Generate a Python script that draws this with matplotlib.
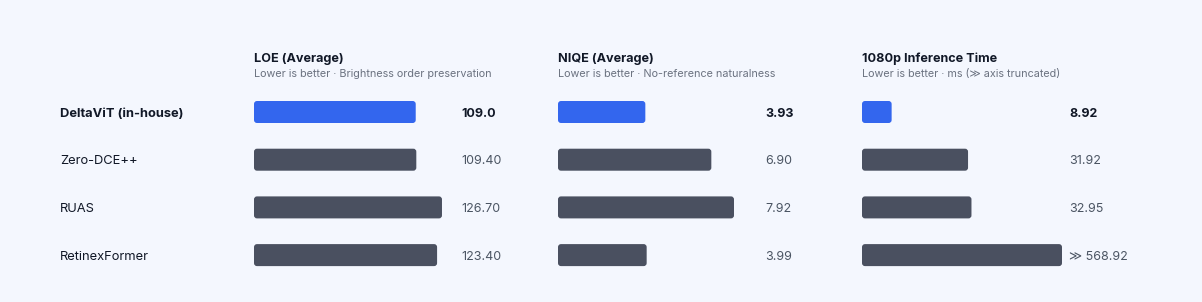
import matplotlib
matplotlib.use("Agg")
import matplotlib.pyplot as plt
from matplotlib.patches import FancyBboxPatch
import matplotlib.transforms as mtransforms

plt.rcParams['font.family'] = ['Inter', 'DejaVu Sans']

# data
models = ["DeltaViT (in-house)", "Zero-DCE++", "RUAS", "RetinexFormer"]
metric_titles = ["LOE (Average)", "NIQE (Average)", "1080p Inference Time"]
metric_subtitles = ["Lower is better · Brightness order preservation",
                    "Lower is better · No-reference naturalness",
                    "Lower is better · ms (≫ axis truncated)"]
loe = [109.0, 109.40, 126.70, 123.40]
niqe = [3.93, 6.90, 7.92, 3.99]
time_ms = [8.92, 31.92, 32.95, 568.92]
loe_labels = ["109.0", "109.40", "126.70", "123.40"]
niqe_labels = ["3.93", "6.90", "7.92", "3.99"]
time_labels = ["8.92", "31.92", "32.95", "≫ 568.92"]
time_cap = 60.2

panels = [
    (loe, loe_labels, 134.8),
    (niqe, niqe_labels, 9.0),
    (time_ms, time_labels, time_cap),
]

BG = "#F4F7FE"
BLUE = "#3366EE"
GRAY = "#4A5060"
DARK = "#111827"
MUTED = "#4B5563"
SUB = "#6B7280"

W, H = 1202, 302
fig = plt.figure(figsize=(W / 100, H / 100), dpi=100, facecolor=BG)

bar_left = [254, 558, 862]
track_w = 200
row_h = 47.7
top = 112 - row_h / 2
n = len(models)
base_off = 4.8  # px from row centre to text baseline

for k, (vals, labels, xmax) in enumerate(panels):
    ax = fig.add_axes([bar_left[k] / W, 1 - (top + n * row_h) / H,
                       track_w / W, n * row_h / H])
    ax.set_facecolor("none")
    ax.set_xlim(0, xmax)
    ax.set_ylim(n - 0.5, -0.5)
    ax.axis("off")

    shown = [min(v, xmax) for v in vals]
    colors = [BLUE] + [GRAY] * (n - 1)
    bh = 22 / row_h
    bars = ax.barh(range(n), shown, height=bh, color=colors)

    # rounded corners
    r_px = 3
    rx = r_px * xmax / track_w
    ry = r_px / row_h
    for b, c in zip(bars, colors):
        b.set_visible(False)
        p = FancyBboxPatch((b.get_x(), b.get_y()), b.get_width(), b.get_height(),
                           boxstyle=f"round,pad=0,rounding_size={rx}",
                           mutation_aspect=ry / rx, facecolor=c, edgecolor="none")
        ax.add_patch(p)

    trans = mtransforms.blended_transform_factory(ax.transAxes, ax.transData)
    for i, lab in enumerate(labels):
        ax.text(207 / track_w, i + base_off / row_h, lab, transform=trans,
                va="baseline", ha="left", fontsize=9.0,
                color=DARK if i == 0 else MUTED,
                fontweight="bold" if i == 0 else "normal")

    fig.text(bar_left[k] / W, 1 - 61.7 / H, metric_titles[k], fontsize=9.1,
             fontweight="bold", color=DARK, va="baseline", ha="left")
    fig.text(bar_left[k] / W, 1 - 76.7 / H, metric_subtitles[k], fontsize=7.8,
             color=SUB, va="baseline", ha="left")

for i, m in enumerate(models):
    fig.text(60 / W, 1 - (112 + i * row_h + base_off) / H, m, fontsize=9.3,
             color=DARK, va="baseline", ha="left",
             fontweight="bold" if i == 0 else "normal")

fig.savefig("out.png", dpi=100, facecolor=BG)
